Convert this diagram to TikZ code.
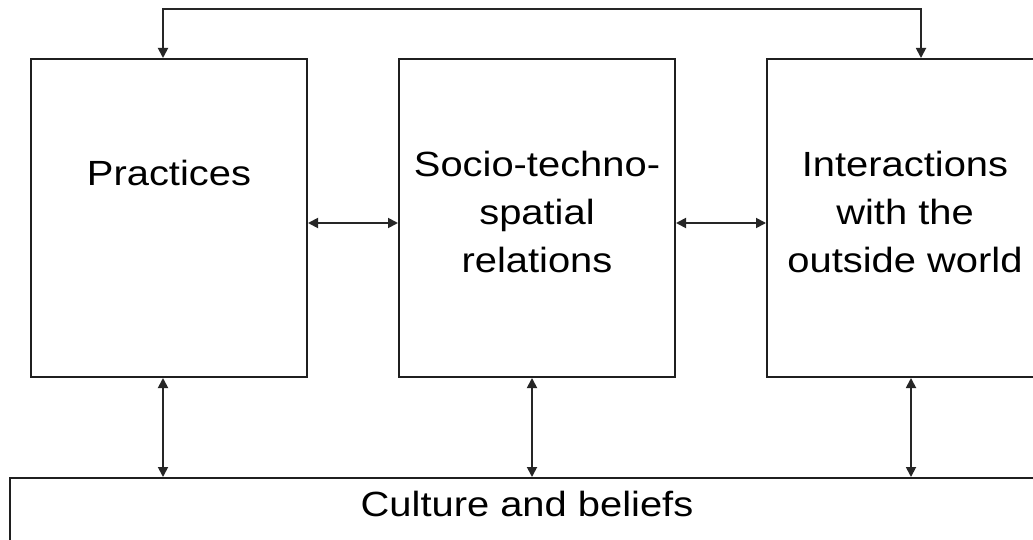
\documentclass[tikz,border=0pt]{standalone}
\usepackage{fontspec}
\setmainfont[FakeStretch=1.14]{Liberation Sans}
\usetikzlibrary{arrows.meta}
\begin{document}
\begin{tikzpicture}[x=1pt,y=-1pt,
  box/.style={draw=black!88, line width=2pt, inner sep=0pt, minimum width=276pt, minimum height=318pt},
  lbl/.style={inner sep=0pt, align=center, font={\fontsize{35}{48}\selectfont}},
  link/.style={draw=black!85, line width=1.8pt, {Triangle[length=10pt,width=10pt]}-{Triangle[length=10pt,width=10pt]}}
]
\useasboundingbox (0,0) rectangle (1033,540);
\clip (0,0) rectangle (1033,540);
\fill[white] (0,0) rectangle (1033,540);
% boxes
\node[box] (p) at (169,218) {};
\node[box] (s) at (537,218) {};
\node[box] (i) at (905,218) {};
\node[draw=black!88, line width=2pt, inner sep=0pt, minimum width=1034pt, minimum height=140pt] (c) at (527,548) {};
% texts
\node[lbl] (pt) at (169,173) {Practices};
\node[lbl] (st) at (537,212) {Socio-techno-\\spatial\\relations};
\node[lbl] (it) at (905,212) {Interactions\\with the\\outside world};
\node[lbl] (ct) at (527,504) {Culture and beliefs};
% helper coordinates
\coordinate (ta) at (163,9);
\coordinate (tb) at (921,9);
\coordinate (hy) at (0,223);
\coordinate (v1) at (163,0);
\coordinate (v2) at (532,0);
\coordinate (v3) at (911,0);
% top connector
\draw[link] (p.north -| ta) -- (ta) -- (tb) -- (i.north -| tb);
% horizontal links
\draw[link] (p.east |- hy) -- (s.west |- hy);
\draw[link] (s.east |- hy) -- (i.west |- hy);
% vertical links
\draw[link] (p.south -| v1) -- (c.north -| v1);
\draw[link] (s.south -| v2) -- (c.north -| v2);
\draw[link] (i.south -| v3) -- (c.north -| v3);
\end{tikzpicture}
\end{document}
